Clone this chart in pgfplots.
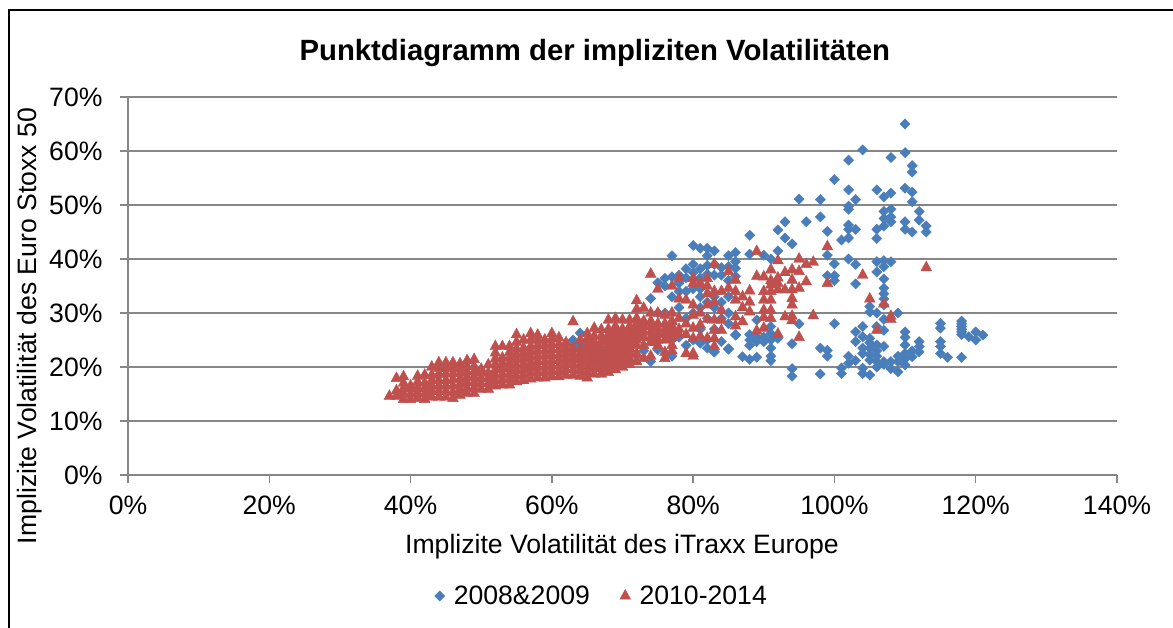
\documentclass[border=0pt]{standalone}
\usepackage{pgfplots}
\pgfplotsset{compat=1.18}
\usepackage{fontspec}
\setmainfont{Liberation Sans}
\definecolor{bl}{RGB}{74,126,187}
\definecolor{rd}{RGB}{192,80,77}
\definecolor{gr}{RGB}{134,134,134}
\newcommand{\fs}{\fontsize{26.6bp}{31bp}\selectfont}
\begin{document}
\begin{tikzpicture}[x=1bp,y=1bp]
\useasboundingbox (-128bp,-153bp) rectangle (1045bp,475bp);
\draw[black,line width=2.2bp] (-119bp,-153bp) -- (-119bp,465bp) -- (1045bp,465bp);
\begin{axis}[
  at={(0,0)},anchor=origin,
  scale only axis,width=989bp,height=378bp,
  xmin=0,xmax=140,ymin=0,ymax=70,
  axis lines=left,
  axis line style={-,gr,line width=1.5bp},
  xtick={0,20,40,60,80,100,120,140},
  ytick={0,10,20,30,40,50,60,70},
  xticklabels={0\%,20\%,40\%,60\%,80\%,100\%,120\%,140\%},
  yticklabels={0\%,10\%,20\%,30\%,40\%,50\%,60\%,70\%},
  tick align=outside,
  major tick length=8bp,
  tick style={gr,line width=1.5bp},
  ymajorgrids,
  grid style={gr,line width=1.5bp},
  ticklabel style={font=\fs,text=black},
  xticklabel style={yshift=-9bp},
  yticklabel style={xshift=-14bp},
  title={\fontsize{29.3bp}{34bp}\selectfont\bfseries Punktdiagramm der impliziten Volatilitäten},
  title style={at={(axis description cs:0.472,1.100)},anchor=center},
  xlabel={\fs Implizite Volatilität des iTraxx Europe},
  xlabel style={at={(axis description cs:0.4995,-0.1905)},anchor=center},
  ylabel={\fs Implizite Volatilität des Euro Stoxx 50},
  ylabel style={at={(axis description cs:-0.099,0.394)},anchor=center},
  legend columns=2,
  legend style={draw=none,fill=none,at={(axis description cs:0.479,-0.32)},anchor=center,font=\fs,
    /tikz/every even column/.append style={column sep=28bp},inner sep=0pt},
]
\addplot[only marks,mark=diamond*,mark size=5.1bp,mark options={xscale=1.33,draw=bl,fill=bl,line width=0.4bp}] coordinates {
(110,65)(110,59.7)(104,60.2)(102,58.3)(108,58.8)(111,57.3)(111,56.1)(100,54.7)(102,52.8)(106,52.8)
(110,53.1)(108,52.2)(107,51.5)(111,52.4)(111,50.6)(95,51.1)(98,51)(103,51)(102,49.8)(102,49.2)
(108,49.2)(107,48.8)(112,48.8)(108,47.8)(107,47.5)(112,47.2)(108,46.9)(98,47.8)(93,46.9)(96,46.9)
(92,45.4)(102,46.3)(102,45.5)(103,45.5)(106,45.5)(106,43.8)(107,46.1)(110,46.9)(110,45.5)(111,45)
(113,46.1)(113,45)(99,45.1)(93,43.9)(94,42.8)(88,44.4)(101,43.5)(102,43.9)(99,40.7)(77,40.6)
(80,42.5)(81,42)(82,42)(83,41.5)(82,40.6)(85,40.6)(86,41.2)(88,40.9)(90,40.7)(92,41.5)
(91,40)(102,40)(103,39)(100,39.1)(106,39.5)(107,39.7)(108,39.5)(107,38.6)(106,37.6)(107,36.3)
(107,34.6)(99,36.9)(100,36.9)(100,36)(103,35.4)(79,38.2)(80,39)(81,38.2)(82,38.8)(83,37)
(84,38.4)(86,39.5)(86,38.3)(85,38.6)(107,33.6)(107,32.6)(107,31.5)(105,30.2)(105,31.2)(106,30)(109,30)
(107,28.8)(100,28)(95,28)(115,28.1)(115,27.2)(118,28.5)(118,28)(118,27.5)(118,27)(118,26.5)(118,26)
(119,25.6)(120,26.5)(120,25)(121,25.9)(115,24.7)(115,23.8)(115,22.5)(116,21.8)(118,21.8)
(110,26.5)(110,25.5)(110,24.1)(112,24.7)(112,23.8)(112,22.8)(111,21.9)(110,21.5)(109,22)(108,21)
(103,26.5)(103,24.7)(104,27.5)(104,25.6)(105,25.3)(106,24.1)(107,23.8)(107,26.8)(106,27.5)
(104,23.5)(105,23.5)(106,23)(104,22.5)(105,22.3)(106,22)(105,21.3)(106,21)(107,20.5)(105,24.5)
(102,22)(102,20.7)(101,19.8)(101,18.8)(103,21.2)(104,19.8)(104,18.8)(105,18.5)(106,20)(107,21)
(108,19.7)(109,19.1)(110,20.4)(109,21)(110,22.5)(111,23)(98,23.5)(99,23.1)(99,22)(98,18.7)
(94,19.7)(94,18.3)(94,24.3)(91,23.5)(91,22)(91,21.2)(89,21.8)(88,21.4)(87,21.9)(85,23.3)
(83,22.8)(88,26)(88,25)(88,24)(89,25.5)(89,24.7)(90,25.5)(90,24.7)(91,25)(91,26.2)(92,25.3)
(86,25.9)(89,28.7)(91,27.5)(74,32.7)(75,35.6)(76,36.4)(76,35)(77,36.7)(78,37)(78,35.5)(79,36.5)
(80,37.5)(81,36.5)(82,37.2)(79,34)(83,39)(84,37)(85,36)(86,36.8)(78,34)(80,34.5)(81,34.5)
(75,23.2)(77,22)(83,22.8)(85,23.4)(84,24.7)(86,26)(81,24.4)(82,32)(83,33)(85,33)(81,31)
(62,21)(62,23)(63,22)(63,24)(63,25)(64,26.3)(64,24)(64,22)(65,21)(65,23)(65,25)(66,22)(66,24)
(67,21)(67,23)(68,22)(68,25)(69,21.5)(69,24)(70,22)(70,25)(71,21)(71,23)(72,22)(72,26)(73,23)
(73,28)(74,21)(74,25)(76,30)(77,28)(78,25.5)(78,31)(79,29)(80,25)(80,30)(81,27)(81,33)(82,29)
(82,25)(83,31)(83,27)(84,29)(84,32)(85,28)(85,30)(75,30)(77,33)(77,25)(76,26)(79,24)(82,23.5)
};
\addlegendentry{\hspace{7bp}2008\&2009}
\addplot[only marks,mark=triangle*,mark size=6.2bp,mark options={draw=rd,fill=rd,line width=0.4bp,yscale=1.05}] coordinates {
(37,14.6)(38,14.6)(38,15.6)(38,17.9)
(39,14)(39,15)(39,16)(39,17)(39,18.2)(40,14)(40,15)(40,16)(40,16.5)
(41,14.2)(41,15.2)(41,16.2)(41,17.2)(41,18.3)(42,14)(42,15)(42,16)(42,17)(42,18.5)
(43,14.4)(43,15.5)(43,16.5)(43,17.5)(43,18.5)(43,20)(44,14.4)(44,15.5)(44,16.5)(44,17.5)(44,18.7)(44,19.8)(44,20.8)
(45,14.4)(45,15.5)(45,16.5)(45,17.5)(45,18.7)(45,19.8)(45,20.8)(46,14.2)(46,15.3)(46,16.5)(46,17.7)(46,18.8)(46,19.8)(46,20.8)
(47,14.8)(47,15.8)(47,16.8)(47,17.8)(47,18.8)(47,19.8)(47,20.6)(48,15.1)(48,16.1)(48,17.1)(48,18.1)(48,19.1)(48,20.1)(48,21.2)
(49,15.1)(49,16.1)(49,17.1)(49,18.1)(49,19.1)(49,20.1)(49,21.4)(50,15.9)(50,16.9)(50,17.9)(50,18.9)(50,19.6)
(51,15.9)(51,16.9)(51,17.9)(51,18.9)(51,20.4)(52,16.5)(52,17.5)(52,18.5)(52,19.5)(52,20.5)(52,21.5)(52,22.6)(52,23.8)
(53,16.7)(53,17.7)(53,18.7)(53,19.7)(53,20.7)(53,21.7)(53,23.8)(54,16.7)(54,17.7)(54,18.7)(54,19.7)(54,20.7)(54,21.7)(54,22.7)(54,23.8)
(55,17.3)(55,18.3)(55,19.3)(55,20.3)(55,21.3)(55,22.3)(55,23.3)(55,24.6)(55,26)(56,17.5)(56,18.5)(56,19.5)(56,20.5)(56,21.5)(56,22.5)(56,23.5)(56,25)
(57,17.8)(57,18.8)(57,19.8)(57,20.8)(57,21.8)(57,22.8)(57,23.8)(57,25)(57,26.2)(58,18)(58,19)(58,20)(58,21)(58,22)(58,23)(58,24)(58,25)(58,25.9)
(59,18)(59,19)(59,20)(59,21)(59,22)(59,23)(59,24)(59,25)(60,18.2)(60,19.2)(60,20.2)(60,21.2)(60,22.2)(60,23.2)(60,24.2)(60,25.2)(60,26.2)
(61,18.2)(61,19.2)(61,20.2)(61,21.2)(61,22.2)(61,23.2)(61,24.2)(61,25.4)(62,18.5)(62,19.5)(62,20.5)(62,21.5)(62,22.5)(62,23.5)(62,24.5)
(63,18.5)(63,19.5)(63,20.5)(63,21.5)(63,22.5)(63,23.5)(63,28.4)(64,18.3)(64,19.3)(64,20.3)(64,21.3)(64,22.3)(64,23.3)(64,25)
(65,18)(65,19)(65,20)(65,21)(65,22)(65,23)(65,24)(65,25)(65,26.2)(66,18.7)(66,19.7)(66,20.7)(66,21.7)(66,22.7)(66,23.7)(66,24.7)(66,25.7)(66,27.2)
(67,18.7)(67,19.7)(67,20.7)(67,21.7)(67,22.7)(67,23.7)(67,24.7)(67,25.7)(67,26.9)(68,19)(68,20)(68,21)(68,22)(68,23)(68,24)(68,25)(68,26)(68,27)(68,28.7)
(69,19.5)(69,20.5)(69,21.5)(69,22.5)(69,23.5)(69,24.5)(69,25.5)(69,26.5)(69,27.5)(69,29)(70,20)(70,21)(70,22)(70,23)(70,24)(70,25)(70,26)(70,27)(70,28.7)
(71,20.5)(71,21.5)(71,22.5)(71,23.5)(71,24.5)(71,25.5)(71,26.5)(71,27.5)(71,28.7)(72,21)(72,22.5)(72,24)(72,25)(72,26)(72,27)(72,28)(72,29)(72,30.7)(72,32.3)
(73,21.6)(73,24)(73,25.5)(73,26.5)(73,27.5)(73,28.5)(73,30.9)(74,22)(74,24.5)(74,25.5)(74,26.5)(74,27.5)(74,28.5)(74,30)
(75,24)(75,25)(75,26)(75,27)(75,28)(75,30)(76,21.6)(76,22.7)(76,25)(76,26)(76,27)(76,28)(76,29.6)(77,23)(77,24)(77,25.5)(77,26.5)(77,27.5)(77,28.5)(77,30)
(78,26)(78,27)(78,29)(78,32.6)(79,22.5)(79,26)(79,28)(79,32.4)(80,22)(80,22.5)(80,25.3)(80,27.2)(80,29.6)(80,31.5)(81,25.7)(81,27.8)(81,30)(82,25.3)(82,28.8)(82,31.5)(82,33.6)(83,23.8)(83,25.3)(83,26.8)(83,28.7)(83,32)(83,34)(84,26.8)(84,28.7)(84,30.5)(84,34)
(74,37.2)(75,34.4)(77,35)(78,36.4)(80,36.4)(80,35.5)(81,35.5)(82,36.4)(82,35)(83,39)(85,37.7)(85,34.6)(86,36.1)(86,34)(86,32.4)(86,29.3)(86,27.6)(87,33)(87,31)(87,28.4)(88,34.1)(88,32)(88,30.2)
(89,41.4)(89,36.8)(89,26.7)(90,36.7)(90,34)(90,32.4)(90,30.5)(90,29.2)(90,27.2)(91,38)(91,36)(91,35.2)(91,34)(91,32.4)(91,30.5)(91,29)(92,39.7)(92,36.5)(92,35.5)(92,34.3)(92,26.1)
(93,37.5)(93,34.3)(93,29.3)(94,38)(94,36.1)(94,34.3)(94,32.7)(94,31.5)(94,29.4)(94,28.6)(95,40)(95,37.7)(95,34.6)(95,25.5)(96,39)(96,35.8)(97,39.4)(97,29.5)(99,42.3)(99,35.5)(104,37)
(105,32.6)(107,31.7)(108,29.4)(108,28.8)(106,26.8)(113,38.4)
};
\addlegendentry{\hspace{7bp}2010-2014}
\end{axis}
\end{tikzpicture}
\end{document}
